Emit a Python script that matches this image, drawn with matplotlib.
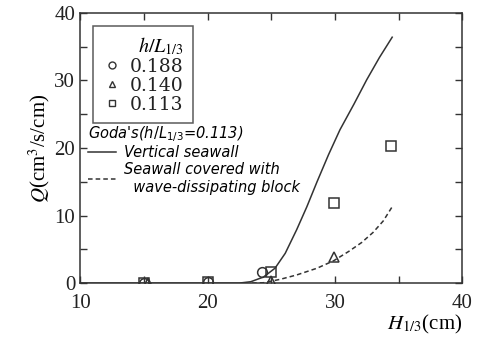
import matplotlib
matplotlib.use('Agg')
import matplotlib.pyplot as plt
from matplotlib.lines import Line2D
from matplotlib.font_manager import FontProperties

plt.rcParams['font.family'] = 'Liberation Serif'
plt.rcParams['mathtext.fontset'] = 'stix'

# measured points, h/L1/3 groups
circle_x = [15.0, 20.0, 24.3]
circle_y = [0.0, 0.2, 1.7]
tri_x = [15.3, 25.0, 29.9]
tri_y = [0.0, 0.3, 3.8]
sq_x = [15.0, 20.0, 25.0, 29.9, 34.4]
sq_y = [0.0, 0.2, 1.7, 11.8, 20.3]

# Goda's estimate (h/L1/3 = 0.113)
vert_x = [10.0, 22.5, 23.4, 24.4, 25.3, 26.1, 27.0, 27.8, 28.6, 29.5, 30.4,
          31.5, 32.5, 33.5, 34.5]
vert_y = [0.0, 0.0, 0.2, 0.9, 2.2, 4.4, 7.9, 11.3, 15.0, 19.0, 22.7,
          26.5, 30.1, 33.4, 36.4]
block_x = [23.5, 24.4, 25.7, 27.0, 28.6, 29.9, 31.1, 32.1, 33.0, 33.8, 34.5]
block_y = [0.0, 0.05, 0.55, 1.2, 2.2, 3.3, 4.7, 6.0, 7.5, 9.2, 11.3]

legend_vals = ['0.188', '0.140', '0.113']

ink = '#333333'

fig = plt.figure(figsize=(4.8, 3.39), dpi=100)
ax = fig.add_axes([0.167, 0.165, 0.796, 0.797])

ax.plot(vert_x, vert_y, '-', color=ink, lw=1.1)
ax.plot(block_x, block_y, '--', color=ink, lw=1.1, dashes=(3, 2))
ms = 7
ax.plot(circle_x, circle_y, 'o', mfc='none', mec=ink, ms=ms, mew=1.1)
ax.plot(tri_x, tri_y, '^', mfc='none', mec=ink, ms=ms, mew=1.1)
ax.plot(sq_x, sq_y, 's', mfc='none', mec=ink, ms=ms, mew=1.1)

ax.set_xlim(10, 40)
ax.set_ylim(0, 40)
ax.set_xticks([10, 20, 30, 40])
ax.set_xticks([15, 25, 35], minor=True)
ax.set_yticks([0, 10, 20, 30, 40])
ax.set_yticks([5, 15, 25, 35], minor=True)
ax.tick_params(which='both', direction='in', top=True, right=True, length=5,
               width=1, color=ink, labelsize=15, labelcolor='#222222')
ax.tick_params(axis='x', pad=8)
for s in ax.spines.values():
    s.set_color(ink)
    s.set_linewidth(1.1)

ax.set_ylabel('$Q$(cm$^3$/s/cm)', fontsize=15, labelpad=2)
ax.set_xlabel('$H_{1/3}$(cm)', fontsize=15, loc='right', labelpad=0)

# marker legend
handles = [Line2D([], [], ls='none', marker=m, mfc='none', mec=ink, ms=5, mew=1.0)
           for m in ['o', '^', 's']]
leg = ax.legend(handles, legend_vals, title='$h/L_{1/3}$', loc='upper left',
                bbox_to_anchor=(0.034, 0.952),
                prop=FontProperties(family='DejaVu Serif', size=13.5),
                title_fontsize=14.5,
                frameon=True, fancybox=False, edgecolor=ink, handlelength=1.0,
                handletextpad=0.45, labelspacing=0.05, borderpad=0.5,
                borderaxespad=0, alignment='right')
leg.get_frame().set_linewidth(1.1)
for t in leg.get_texts():
    t.set_color('#222222')
ax.add_artist(leg)

# Goda's lines legend
fp = FontProperties(family='DejaVu Sans', style='italic', size=10.5,
                    math_fontfamily='dejavusans')
line_handles = [Line2D([], [], ls='-', color=ink, lw=1.1),
                Line2D([], [], ls='--', color=ink, lw=1.1, dashes=(3, 2))]
leg2 = ax.legend(line_handles,
                 ['Vertical seawall', 'Seawall covered with\n  wave-dissipating block'],
                 title="Goda's($h/L_{1/3}$=0.113)", title_fontproperties=fp,
                 prop=fp, loc='upper left', bbox_to_anchor=(0.02, 0.59),
                 frameon=False, handlelength=1.9, handletextpad=0.55,
                 labelspacing=0.12, borderpad=0, borderaxespad=0,
                 alignment='left')

fig.savefig('out.png', dpi=100)
